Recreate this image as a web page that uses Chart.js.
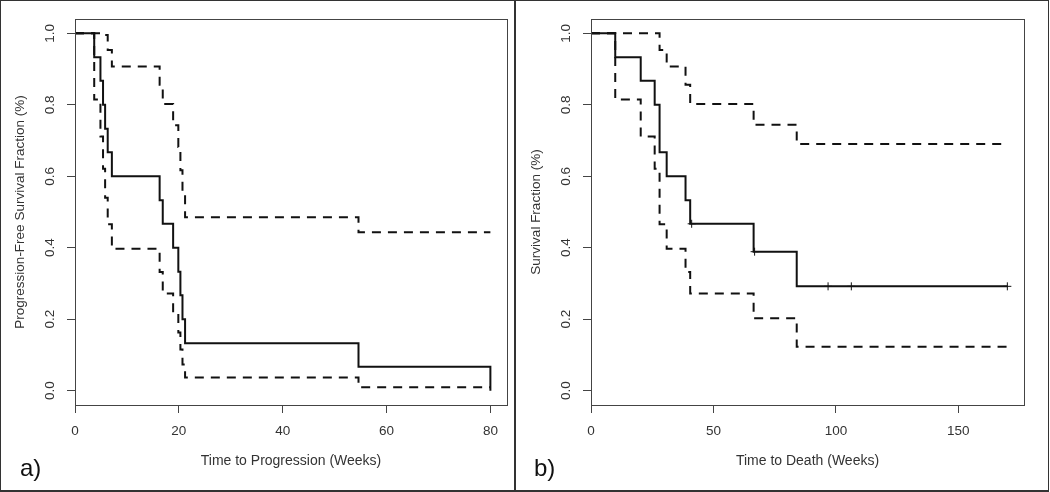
<!DOCTYPE html>
<html>
<head>
<meta charset="utf-8">
<script src="https://cdn.jsdelivr.net/npm/chart.js@4"></script>
<style>
  body { margin: 0; background: #fff; }
  #wrap { position: relative; width: 1050px; height: 492px; overflow: hidden; }
  #frame { position: absolute; left: 0; top: 0; width: 1047px; height: 489px; border: 1px solid #333; border-bottom-width: 2px; }
  #divider { position: absolute; left: 514px; top: 0; width: 2px; height: 492px; background: #333; }
  canvas { position: absolute; top: 0; }
  .tag { position: absolute; top: 454px; font: 24px "Liberation Sans", Arial, sans-serif; color: #111; }
</style>
</head>
<body>
<div id="wrap">
  <canvas id="pfs" width="514" height="492" style="left:0"></canvas>
  <canvas id="os" width="534" height="492" style="left:516px"></canvas>
  <div id="frame"></div>
  <div id="divider"></div>
  <div class="tag" style="left:20px">a)</div>
  <div class="tag" style="left:534px">b)</div>
</div>
<script>
// a) time to progression, weeks
const pfsTime  = [0, 3.7, 4.9, 5.4, 5.8, 6.3, 7.1, 16.3, 16.9, 18.9, 19.9, 20.3, 20.7, 21.2, 54.6, 80];
const pfsSurv  = [1, 0.933, 0.867, 0.8, 0.733, 0.667, 0.6, 0.533, 0.467, 0.4, 0.333, 0.267, 0.2, 0.133, 0.067, 0];
const pfsUpper = [1, 1, 1, 1, 0.995, 0.953, 0.907, 0.856, 0.802, 0.743, 0.682, 0.617, 0.55, 0.485, 0.443, 0.443];
const pfsLower = [1, 0.815, 0.711, 0.621, 0.54, 0.466, 0.397, 0.332, 0.272, 0.215, 0.163, 0.115, 0.073, 0.037, 0.01, 0.01];

// b) time to death, weeks
const osTime  = [0, 9.9, 20.3, 26.0, 28.0, 30.9, 38.6, 40.5, 66.4, 84.0, 170];
const osSurv  = [1, 0.933, 0.867, 0.8, 0.667, 0.6, 0.533, 0.467, 0.389, 0.292, 0.292];
const osUpper = [1, 1, 1, 1, 0.953, 0.907, 0.856, 0.802, 0.744, 0.69, 0.69];
const osLower = [1, 0.815, 0.711, 0.621, 0.466, 0.397, 0.332, 0.272, 0.203, 0.123, 0.123];
const osCensorTime = [41.1, 66.8, 96.8, 106.3, 170];
const osCensorSurv = [0.467, 0.389, 0.292, 0.292, 0.292];

const pfsXTicks = [0, 20, 40, 60, 80];
const osXTicks = [0, 50, 100, 150];
const yTicks = [0, 0.2, 0.4, 0.6, 0.8, 1.0];

const FONT = '"Liberation Sans", Arial, sans-serif';
const AXIS = '#444';
const TEXT = '#333';

const toPts = (xs, ys) => xs.map((x, i) => ({ x: x, y: ys[i] }));

// R-style box round the plot region
const boxPlugin = {
  id: 'box',
  afterDraw(chart) {
    const a = chart.chartArea, ctx = chart.ctx;
    ctx.save();
    ctx.strokeStyle = AXIS;
    ctx.lineWidth = 1;
    ctx.strokeRect(Math.round(a.left) + 0.5, Math.round(a.top) + 0.5,
                   Math.round(a.right - a.left), Math.round(a.bottom - a.top));
    ctx.restore();
  }
};

function kmLine(label, xs, ys, dashed) {
  return {
    label: label,
    data: toPts(xs, ys),
    stepped: 'before',
    borderColor: '#111',
    borderWidth: 2,
    borderDash: dashed ? [9, 7] : [],
    borderCapStyle: 'butt',
    pointRadius: 0,
    fill: false
  };
}

function makeChart(id, datasets, xMax, xTicks, xTitle, yTitle, padRight) {
  return new Chart(document.getElementById(id), {
    type: 'line',
    data: { datasets: datasets },
    plugins: [boxPlugin],
    options: {
      responsive: false,
      animation: false,
      devicePixelRatio: 1,
      layout: { padding: { top: 19, right: padRight, bottom: 0, left: 0 } },
      plugins: { legend: { display: false }, tooltip: { enabled: false } },
      scales: {
        x: {
          type: 'linear',
          min: 0,
          max: xMax,
          afterBuildTicks: s => { s.ticks = xTicks.map(v => ({ value: v })); },
          afterFit: s => { s.height = 87; },
          border: { display: false },
          grid: { drawOnChartArea: false, drawTicks: true, tickLength: 8, color: AXIS },
          ticks: { color: TEXT, font: { family: FONT, size: 13.5 }, padding: 10, maxRotation: 0 },
          title: { display: true, text: xTitle, color: TEXT, font: { family: FONT, size: 14 }, padding: { top: 0, bottom: 22 } }
        },
        y: {
          min: -0.04,
          max: 1.04,
          afterBuildTicks: s => { s.ticks = yTicks.map(v => ({ value: v })); },
          afterFit: s => { s.width = 75; },
          border: { display: false },
          grid: { drawOnChartArea: false, drawTicks: true, tickLength: 8, color: AXIS },
          ticks: {
            color: TEXT, font: { family: FONT, size: 13.5 },
            minRotation: 90, maxRotation: 90, crossAlign: 'center', padding: 7,
            callback: v => v.toFixed(1)
          },
          title: { display: true, text: yTitle, color: TEXT, font: { family: FONT, size: 13.5 }, padding: { top: 12, bottom: 0 } }
        }
      }
    }
  });
}

makeChart('pfs', [
  kmLine('upper', pfsTime, pfsUpper, true),
  kmLine('lower', pfsTime, pfsLower, true),
  kmLine('PFS', pfsTime, pfsSurv, false)
], 83.2, pfsXTicks, 'Time to Progression (Weeks)', 'Progression-Free Survival Fraction (%)', 7);

makeChart('os', [
  kmLine('upper', osTime, osUpper, true),
  kmLine('lower', osTime, osLower, true),
  kmLine('OS', osTime, osSurv, false),
  {
    label: 'censored',
    data: toPts(osCensorTime, osCensorSurv),
    showLine: false,
    pointStyle: 'cross',
    pointRadius: 4,
    pointBorderWidth: 1,
    pointBorderColor: '#111'
  }
], 176.8, osXTicks, 'Time to Death (Weeks)', 'Survival Fraction (%)', 26);
</script>
</body>
</html>
